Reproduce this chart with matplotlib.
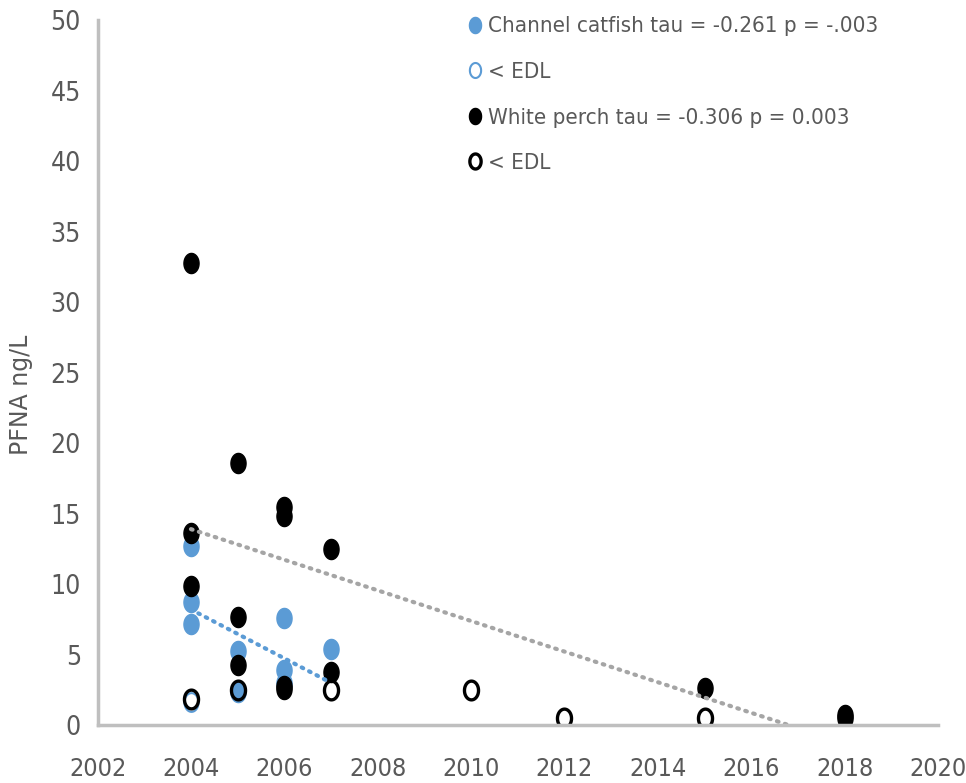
import numpy as np
import matplotlib
matplotlib.use("Agg")
import matplotlib.pyplot as plt
from matplotlib.path import Path

# PFNA concentrations by sampling year
catfish_years = [2004, 2004, 2004, 2005, 2005, 2006, 2006, 2006, 2007]
catfish_vals = [12.7, 8.7, 7.2, 5.25, 2.35, 7.6, 3.9, 3.0, 5.4]

catfish_edl_years = [2004]
catfish_edl_vals = [1.65]

perch_years = [2004, 2004, 2004, 2005, 2005, 2005, 2006, 2006, 2006, 2006,
               2007, 2007, 2015, 2018, 2018]
perch_vals = [32.8, 13.6, 9.9, 18.6, 7.7, 4.25, 15.5, 14.8, 2.8, 2.55,
              12.5, 3.8, 2.65, 0.7, 0.5]

perch_edl_years = [2004, 2005, 2007, 2010, 2012, 2015]
perch_edl_vals = [1.85, 2.5, 2.5, 2.5, 0.5, 0.5]

# linear trend lines (start / end)
catfish_trend_years = [2004, 2007]
catfish_trend_vals = [8.2, 3.0]
perch_trend_years = [2004, 2016.8]
perch_trend_vals = [13.9, 0.0]

labels = ["Channel catfish tau = -0.261 p = -.003", "< EDL",
          "White perch tau = -0.306 p = 0.003", "< EDL"]

BLUE = "#5b9bd5"
TEXT = "#595959"
AXIS = "#bfbfbf"
TREND = "#a5a5a5"

plt.rcParams["font.family"] = ["DejaVu Sans"]

# tall oval marker
t = np.linspace(0, 2 * np.pi, 60)
oval = Path(np.column_stack([0.75 * np.cos(t), np.sin(t)]), closed=True)

fig = plt.figure(figsize=(9.66, 7.83), dpi=100)
ax = fig.add_axes([0.101, 0.074, 0.870, 0.900])

ax.plot(catfish_years, catfish_vals, ls="none", marker=oval, ms=14.5,
        mfc=BLUE, mec=BLUE, label=labels[0])
ax.plot(catfish_edl_years, catfish_edl_vals, ls="none", marker=oval,
        ms=13.5, mfc="white", mec=BLUE, mew=1.5, label=labels[1])
ax.plot(perch_years, perch_vals, ls="none", marker=oval, ms=14.5,
        mfc="black", mec="black", label=labels[2])
ax.plot(perch_edl_years, perch_edl_vals, ls="none", marker=oval, ms=13.5,
        mfc="none", mec="black", mew=2.4, label=labels[3])

ax.plot(catfish_trend_years, catfish_trend_vals, color=BLUE, lw=3,
        ls=(0, (0.4, 1.6)), dash_capstyle="round")
ax.plot(perch_trend_years, perch_trend_vals, color=TREND, lw=3,
        ls=(0, (0.4, 1.6)), dash_capstyle="round")

ax.set_xlim(2002, 2020)
ax.set_ylim(0, 50)
ax.set_xticks(np.arange(2002, 2021, 2))
ax.set_yticks(np.arange(0, 51, 5))
ax.tick_params(length=0, labelsize=19, labelcolor=TEXT)
ax.tick_params(axis="x", pad=23, labelsize=18)
ax.tick_params(axis="y", pad=12)
for lbl in ax.get_xticklabels() + ax.get_yticklabels():
    lbl.set_fontstretch("condensed")

for side in ["top", "right"]:
    ax.spines[side].set_visible(False)
for side in ["left", "bottom"]:
    ax.spines[side].set_color(AXIS)
    ax.spines[side].set_linewidth(2.5)

ax.set_ylabel("PFNA ng/L", fontsize=17, color=TEXT)
ax.yaxis.set_label_coords(-0.077, 0.468)

leg = ax.legend(loc="upper left", bbox_to_anchor=(0.4845, 0.979),
                bbox_transform=fig.transFigure, frameon=False,
                markerscale=0.8, handlelength=0.6, handletextpad=0.3,
                labelspacing=1.15, borderpad=0, borderaxespad=0,
                prop={"family": "DejaVu Sans", "stretch": "condensed",
                      "size": 16})
for txt in leg.get_texts():
    txt.set_color(TEXT)

fig.savefig("out.png", dpi=100)
